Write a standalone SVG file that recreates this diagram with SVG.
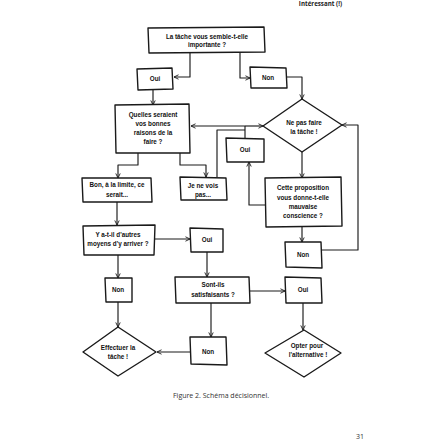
<svg xmlns="http://www.w3.org/2000/svg" width="448" height="448" viewBox="0 0 448 448">
<style>
.b{fill:#fff;stroke:#1a1a1a;stroke-width:1.4;stroke-linejoin:round}
.c{fill:none;stroke:#1a1a1a;stroke-width:1.15;stroke-linejoin:round}
.t{font-family:"Liberation Sans Narrow","Liberation Sans",Arial,sans-serif;font-weight:bold;font-size:6.3px;fill:#111;text-anchor:middle}
.cap{font-family:"Open Sans","Liberation Sans",sans-serif;font-size:7px;fill:#333}
.hd{font-family:"Open Sans","Liberation Sans",sans-serif;font-size:6.2px;font-weight:bold;fill:#222}
</style>
<defs>
<marker id="ah" viewBox="0 0 8 8" refX="7.6" refY="4" markerWidth="5.5" markerHeight="5.5" orient="auto" markerUnits="userSpaceOnUse">
<path d="M1,0.8 L7.6,4 L1,7.2" fill="none" stroke="#1a1a1a" stroke-width="1.3"/>
</marker>
</defs>
<rect width="448" height="448" fill="#fff"/>
<text class="hd" x="342" y="6" text-anchor="end">Intéressant (!)</text>

<g id="connectors">
<path class="c" d="M190,52 V77 H174" marker-end="url(#ah)"/>
<path class="c" d="M240,52 V78 H250" marker-end="url(#ah)"/>
<path class="c" d="M287,77 H302 V99" marker-end="url(#ah)"/>
<path class="c" d="M153,90 V105" marker-end="url(#ah)"/>
<path class="c" d="M138,153 V165 H118 V178" marker-end="url(#ah)"/>
<path class="c" d="M180,153 V165 H206 V177" marker-end="url(#ah)"/>
<path class="c" d="M245,126 H191" marker-end="url(#ah)"/>
<path class="c" d="M245,126 H263" marker-end="url(#ah)"/>
<path class="c" d="M245,138 V126"/>
<path class="c" d="M217,177 V130 H245"/>
<path class="c" d="M302,152 V178" marker-end="url(#ah)"/>
<path class="c" d="M265,205 H249 V162" marker-end="url(#ah)"/>
<path class="c" d="M302,227 V242" marker-end="url(#ah)"/>
<path class="c" d="M322,250 H358 V125 H342" marker-end="url(#ah)"/>
<path class="c" d="M117,202 V225" marker-end="url(#ah)"/>
<path class="c" d="M155,239 H190" marker-end="url(#ah)"/>
<path class="c" d="M118,255 V278" marker-end="url(#ah)"/>
<path class="c" d="M207,252 V277" marker-end="url(#ah)"/>
<path class="c" d="M250,291 H285" marker-end="url(#ah)"/>
<path class="c" d="M303,303 V330" marker-end="url(#ah)"/>
<path class="c" d="M211,303 V337" marker-end="url(#ah)"/>
<path class="c" d="M190,352 H157" marker-end="url(#ah)"/>
<path class="c" d="M118,302 V327" marker-end="url(#ah)"/>
</g>

<g id="n-importante">
<path class="b" d="M148,28 L264,27 L265,52 L149,53 Z"/>
<text class="t" x="207" y="39">La tâche vous semble-t-elle</text>
<text class="t" x="207" y="47">importante ?</text>
</g>
<g id="n-oui1">
<path class="b" d="M137,69 L172,68 L173,89 L138,90 Z"/>
<text class="t" x="155" y="81">Oui</text>
</g>
<g id="n-non1">
<path class="b" d="M250,67 L286,68 L287,88 L251,88 Z"/>
<text class="t" x="268" y="80">Non</text>
</g>
<g id="n-quelles">
<path class="b" d="M115,105 L189,104 L190,153 L116,153 Z"/>
<text class="t" x="153" y="117">Quelles seraient</text>
<text class="t" x="153" y="126">vos bonnes</text>
<text class="t" x="153" y="135">raisons de la</text>
<text class="t" x="153" y="144">faire ?</text>
</g>
<g id="n-nepasfaire">
<path class="b" d="M302,99 L342,125 L302,152 L263,126 Z"/>
<text class="t" x="304" y="125">Ne pas faire</text>
<text class="t" x="304" y="134">la tâche !</text>
</g>
<g id="n-oui2">
<path class="b" d="M226,138 L264,139 L264,162 L227,162 Z"/>
<text class="t" x="245" y="152">Oui</text>
</g>
<g id="n-bon">
<path class="b" d="M82,178 L151,178 L152,202 L83,202 Z"/>
<text class="t" x="117" y="187">Bon, à la limite, ce</text>
<text class="t" x="117" y="197">serait...</text>
</g>
<g id="n-jenevois">
<path class="b" d="M180,177 L226,178 L227,200 L181,200 Z"/>
<text class="t" x="203" y="188">Je ne vois</text>
<text class="t" x="203" y="197">pas...</text>
</g>
<g id="n-cette">
<path class="b" d="M265,178 L341,177 L342,226 L266,227 Z"/>
<text class="t" x="303" y="190">Cette proposition</text>
<text class="t" x="303" y="200">vous donne-t-elle</text>
<text class="t" x="303" y="209">mauvaise</text>
<text class="t" x="303" y="218">conscience ?</text>
</g>
<g id="n-non2">
<path class="b" d="M285,242 L321,242 L322,268 L286,267 Z"/>
<text class="t" x="303" y="257">Non</text>
</g>
<g id="n-autres">
<path class="b" d="M83,226 L155,225 L154,255 L84,255 Z"/>
<text class="t" x="118" y="237">Y a-t-il d'autres</text>
<text class="t" x="118" y="246">moyens d'y arriver ?</text>
</g>
<g id="n-oui3">
<path class="b" d="M190,228 L223,229 L223,252 L191,252 Z"/>
<text class="t" x="207" y="242">Oui</text>
</g>
<g id="n-non3">
<path class="b" d="M105,278 L132,278 L132,302 L106,302 Z"/>
<text class="t" x="118" y="292">Non</text>
</g>
<g id="n-sontils">
<path class="b" d="M175,277 L249,277 L250,303 L176,303 Z"/>
<text class="t" x="213" y="287">Sont-ils</text>
<text class="t" x="213" y="297">satisfaisants ?</text>
</g>
<g id="n-oui4">
<path class="b" d="M285,277 L321,278 L322,303 L286,303 Z"/>
<text class="t" x="303" y="292">Oui</text>
</g>
<g id="n-effectuer">
<path class="b" d="M118,327 L156,352 L118,376 L83,352 Z"/>
<text class="t" x="118" y="350">Effectuer la</text>
<text class="t" x="118" y="359">tâche !</text>
</g>
<g id="n-non4">
<path class="b" d="M190,337 L226,337 L227,365 L191,364 Z"/>
<text class="t" x="208" y="354">Non</text>
</g>
<g id="n-opter">
<path class="b" d="M304,330 L341,353 L304,377 L265,353 Z"/>
<text class="t" x="307" y="348">Opter pour</text>
<text class="t" x="308" y="357">l'alternative !</text>
</g>

<text class="cap" x="173" y="398">Figure 2. Schéma décisionnel.</text>
<text class="cap" x="356" y="439" font-size="6">31</text>
</svg>
